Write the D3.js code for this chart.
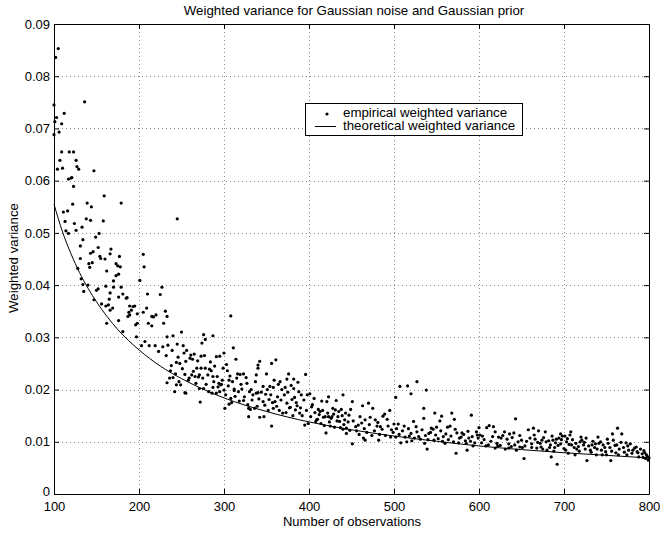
<!DOCTYPE html>
<html><head><meta charset="utf-8">
<script src="https://cdn.jsdelivr.net/npm/d3@7"></script>
<style>
html,body{margin:0;padding:0;background:#fff;}
text{font-family:"Liberation Sans",Arial,Helvetica,sans-serif;}
</style></head>
<body>
<svg id="chart" width="660" height="533"></svg>
<script>
const titleText = "Weighted variance for Gaussian noise and Gaussian prior";
const xLabelText = "Number of observations";
const yLabelText = "Weighted variance";
const legendLabels = ["empirical weighted variance", "theoretical weighted variance"];
const xTicks = [100, 200, 300, 400, 500, 600, 700, 800];
const yTicks = [0, 0.01, 0.02, 0.03, 0.04, 0.05, 0.06, 0.07, 0.08, 0.09];
const yTickLabels = ["0", "0.01", "0.02", "0.03", "0.04", "0.05", "0.06", "0.07", "0.08", "0.09"];

// theoretical curve
const curveN = [100,110,120,130,140,150,175,200,225,250,275,300,350,400,450,500,550,600,650,700,750,800];
const theoreticalVar = [0.0555,0.0502,0.0460,0.0424,0.0394,0.0368,0.0315,0.0276,0.0245,0.0221,0.0201,0.0184,0.0158,0.0138,0.0123,0.0111,0.0101,0.0092,0.0085,0.0079,0.0074,0.0069];

// empirical points
const obsN = [
105,102,100,136,112,103,101,109,106,100,109,118,123,107,126,127,129,104,110,147,117,120,121,123,159,122,139,144,179,111,116,
113,124,133,138,143,158,126,114,117,153,149,134,131,152,146,167,143,154,155,160,166,177,131,205,145,141,142,173,175,178,206,
128,162,176,173,170,132,201,134,140,152,161,170,179,227,135,150,166,181,186,210,225,147,165,176,185,156,161,164,169,166,189,
193,195,209,191,188,189,187,198,205,215,220,217,211,215,231,233,229,196,198,162,176,181,197,207,203,212,223,219,234,233,228,
240,245,245,
308,250,276,287,252,274,278,311,253,261,265,273,260,263,255,291,295,300,284,314,303,244,248,238,268,273,278,283,285,299,304,
262,266,270,259,287,319,323,315,340,342,340,338,350,356,361,376,382,387,396,366,374,240,294,297,276,282,291,295,308,306,312,
317,321,327,330,340,346,354,358,364,372,382,242,254,286,
233,236,244,249,255,271,287,272,296,300,305,306,309,301,312,323,329,331,329,336,333,338,342,346,349,347,353,356,358,360,363,
365,371,373,374,378,380,384,386,389,391,395,399,403,407,409,
507,516,527,520,538,502,401,406,415,421,423,432,440,451,463,470,475,411,413,417,419,423,427,428,431,434,438,436,442,420,444,
447,449,455,458,451,460,464,466,466,472,478,480,482,484,487,489,492,495,497,500,502,505,508,512,515,518,521,523,526,529,535,
535,536,539,541,544,546,548,550,554,556,558,560,563,566,568,571,573,574,577,580,584,586,588,591,593,597,599,410,425,440,444,
643,612,609,617,601,600,630,636,641,664,670,678,604,623,626,633,646,650,660,666,674,682,687,691,694,698,701,707,696,703,709,
715,719,721,725,729,733,736,740,741,744,748,752,755,757,758,763,762,768,770,773,776,780,783,786,788,792,794,796,797,799,653,
692,685,727,713,619,611,638,668,680,705,738,764,631,654,644,672,684,689,712,723,750,774,696,708,658,619,
603,606,608,614,616,621,625,628,635,639,642,648,651,656,662,665,669,673,676,679,683,686,690,693,697,700,704,706,710,714,717,
720,724,726,731,734,737,739,743,746,749,751,754,756,760,765,767,771,775,778,781,785,787,790,793,795,798,800,761,745,732,718,
702,688,675,662,648,635,622,
452,456,459,462,465,468,471,474,477,481,483,486,490,493,496,499,503,506,510,513,517,520,524,527,531,533,537,540,543,547,549,
552,555,557,561,564,567,570,572,576,579,582,585,587,590,592,595,598,
402,404,408,412,414,416,418,422,424,426,429,430,433,435,437,439,441,443,446,448,
302,307,310,313,316,318,320,324,326,328,332,334,337,339,341,344,348,351,352,355,357,359,362,367,368,369,375,377,379,381,383,
385,388,390,392,394,397,398,
232,237,239,243,246,247,251,254,256,258,264,267,269,271,275,277,279,281,288,289,292,293,298
];
const empiricalVar = [
.0853,.0836,.0745,.0751,.0729,.0721,.0713,.0709,.0693,.0688,.0655,.0655,.0655,.0639,.0639,.0627,.0622,.0622,.0624,.0619,.0603,.0605,.0606,.0589,.0571,.0555,.0557,.0550,.0557,.0540,.0542,
.0522,.0518,.0511,.0527,.0524,.0523,.0505,.0504,.0499,.0499,.0492,.0487,.0475,.0472,.0464,.0469,.0461,.0455,.0451,.0450,.0460,.0455,.0451,.0459,.0443,.0441,.0434,.0441,.0437,.0435,.0435,
.0432,.0427,.0421,.0418,.0408,.0412,.0409,.0401,.0400,.0393,.0398,.0396,.0396,.0396,.0388,.0390,.0385,.0383,.0376,.0383,.0382,.0372,.0373,.0377,.0375,.0364,.0360,.0362,.0356,.0352,.0360,
.0359,.0360,.0356,.0352,.0348,.0343,.0340,.0345,.0348,.0340,.0343,.0339,.0327,.0322,.0350,.0340,.0327,.0324,.0327,.0327,.0332,.0311,.0301,.0292,.0284,.0284,.0273,.0284,.0285,.0301,.0282,
.0303,.0287,.0527,
.0341,.0310,.0305,.0303,.0284,.0289,.0296,.0280,.0270,.0266,.0268,.0264,.0260,.0258,.0254,.0263,.0264,.0270,.0253,.0258,.0248,.0252,.0250,.0246,.0241,.0241,.0241,.0239,.0236,.0241,.0236,
.0228,.0225,.0224,.0222,.0225,.0229,.0230,.0222,.0247,.0254,.0241,.0228,.0230,.0250,.0257,.0230,.0220,.0214,.0229,.0215,.0220,.0223,.0212,.0210,.0202,.0196,.0193,.0196,.0183,.0218,.0201,
.0196,.0201,.0212,.0196,.0194,.0206,.0206,.0204,.0210,.0204,.0202,.0196,.0194,.0193,
.0213,.0222,.0209,.0209,.0193,.0202,.0204,.0176,.0209,.0199,.0207,.0172,.0175,.0164,.0198,.0179,.0164,.0162,.0148,.0164,.0180,.0193,.0147,.0177,.0191,.0148,.0181,.0130,.0164,.0177,.0186,
.0160,.0190,.0156,.0174,.0166,.0181,.0161,.0169,.0155,.0190,.0132,.0135,.0167,.0156,.0142,
.0206,.0207,.0215,.0192,.0199,.0185,.0192,.0183,.0178,.0177,.0186,.0179,.0190,.0177,.0169,.0174,.0164,.0162,.0158,.0147,.0148,.0148,.0148,.0164,.0161,.0148,.0162,.0139,.0142,.0117,.0126,
.0151,.0162,.0129,.0132,.0096,.0148,.0107,.0103,.0142,.0147,.0142,.0130,.0103,.0129,.0149,.0153,.0143,.0160,.0123,.0134,.0109,.0134,.0098,.0130,.0100,.0111,.0102,.0139,.0129,.0110,.0145,
.0164,.0097,.0086,.0116,.0126,.0124,.0155,.0128,.0140,.0149,.0110,.0097,.0128,.0130,.0155,.0143,.0078,.0117,.0107,.0117,.0102,.0084,.0107,.0151,.0092,.0119,.0107,.0143,.0130,.0124,.0116,
.0144,.0131,.0127,.0129,.0113,.0127,.0119,.0115,.0117,.0126,.0121,.0119,.0111,.0109,.0107,.0105,.0100,.0103,.0107,.0105,.0103,.0102,.0103,.0105,.0107,.0111,.0111,.0113,.0096,.0100,.0094,
.0086,.0100,.0103,.0086,.0092,.0094,.0089,.0109,.0097,.0084,.0089,.0097,.0064,.0115,.0103,.0126,.0094,.0115,.0089,.0098,.0084,.0078,.0088,.0081,.0071,.0077,.0083,.0068,.0075,.0065,.0068,
.0057,.0071,.0064,.0075,.0088,.0094,.0091,.0088,.0084,.0078,.0075,.0075,.0086,.0092,.0084,.0097,.0094,.0089,.0089,.0094,.0075,.0075,.0115,.0119,.0123,.0119,
.0098,.0104,.0092,.0101,.0110,.0097,.0093,.0112,.0096,.0108,.0094,.0112,.0089,.0101,.0096,.0113,.0099,.0090,.0108,.0100,.0089,.0111,.0098,.0093,.0104,.0087,.0106,.0095,.0104,.0097,.0091,
.0109,.0099,.0107,.0084,.0101,.0096,.0086,.0100,.0094,.0081,.0105,.0089,.0082,.0093,.0086,.0099,.0080,.0092,.0096,.0084,.0090,.0079,.0086,.0070,.0079,.0072,.0069,.0079,.0075,.0080,.0082,
.0084,.0082,.0086,.0089,.0090,.0088,.0092,
.0140,.0121,.0114,.0136,.0125,.0118,.0133,.0112,.0121,.0137,.0114,.0124,.0112,.0130,.0109,.0118,.0125,.0114,.0121,.0109,.0125,.0116,.0107,.0119,.0105,.0123,.0112,.0104,.0118,.0103,.0113,
.0106,.0121,.0101,.0115,.0104,.0111,.0100,.0124,.0098,.0109,.0114,.0097,.0120,.0101,.0110,.0098,.0113,
.0148,.0171,.0139,.0152,.0135,.0160,.0131,.0155,.0138,.0145,.0153,.0128,.0140,.0158,.0127,.0150,.0133,.0155,.0138,.0122,
.0190,.0226,.0215,.0187,.0230,.0178,.0210,.0186,.0223,.0171,.0200,.0190,.0215,.0168,.0182,.0195,.0170,.0200,.0160,.0190,.0175,.0218,.0168,.0180,.0200,.0155,.0195,.0165,.0208,.0150,.0185,
.0175,.0196,.0165,.0150,.0180,.0160,.0190,
.0265,.0236,.0275,.0230,.0262,.0215,.0240,.0229,.0275,.0218,.0235,.0212,.0255,.0228,.0222,.0265,.0210,.0228,.0215,.0245,.0225,.0205,.0218
];

const FONT = 13.3;
const AXFONT = 13;
const svg = d3.select("#chart");
const L = 54, R = 649, T = 24, B = 494;
const x = d3.scaleLinear().domain([100, 800]).range([L, R]);
const y = d3.scaleLinear().domain([0, 0.09]).range([B, T]);

svg.append("rect").attr("width", 660).attr("height", 533).attr("fill", "#fff");

// grid
const grid = svg.append("g").attr("stroke", "#8a8a8a").attr("stroke-width", 1).attr("stroke-dasharray", "1,3");
grid.selectAll("line.gx").data(xTicks.slice(1, -1)).join("line")
  .attr("x1", d => Math.round(x(d)) + 0.5).attr("x2", d => Math.round(x(d)) + 0.5)
  .attr("y1", T).attr("y2", B);
grid.selectAll("line.gy").data(yTicks.slice(1, -1)).join("line")
  .attr("y1", d => Math.round(y(d)) + 0.5).attr("y2", d => Math.round(y(d)) + 0.5)
  .attr("x1", L).attr("x2", R);

// axes
function styleAxis(g) {
  g.selectAll("path,line").attr("stroke", "#000");
  g.selectAll("text").attr("fill", "#000").attr("font-size", AXFONT)
    .attr("font-family", '"Liberation Sans",Arial,Helvetica,sans-serif');
}
svg.append("g").attr("transform", `translate(0,${B})`)
  .call(d3.axisBottom(x).tickValues(xTicks).tickSize(-5).tickSizeOuter(0).tickPadding(7.3).tickFormat(d3.format("d")))
  .call(styleAxis);
svg.append("g").attr("transform", `translate(0,${T})`)
  .call(d3.axisTop(x).tickValues(xTicks).tickSize(-5).tickSizeOuter(0).tickFormat(""))
  .call(styleAxis);
const yAxisG = svg.append("g").attr("transform", `translate(${L},0)`)
  .call(d3.axisLeft(y).tickValues(yTicks).tickSize(-5).tickSizeOuter(0).tickPadding(4).tickFormat((d, i) => yTickLabels[i]))
  .call(styleAxis);
// lift the "0" label slightly so it sits just above the "100" label
yAxisG.selectAll(".tick text").filter(d => d === 0).attr("dy", "0.12em");
svg.append("g").attr("transform", `translate(${R},0)`)
  .call(d3.axisRight(y).tickValues(yTicks).tickSize(-5).tickSizeOuter(0).tickFormat(""))
  .call(styleAxis);

// points
const pts = obsN.map((n, i) => ({ n, v: empiricalVar[i] }));
svg.append("g").selectAll("circle").data(pts).join("circle")
  .attr("cx", d => x(d.n)).attr("cy", d => y(d.v)).attr("r", 1.6).attr("fill", "#000");

// curve
const line = d3.line().x(d => x(d.n)).y(d => y(d.v)).curve(d3.curveMonotoneX);
svg.append("path").datum(curveN.map((n, i) => ({ n, v: theoreticalVar[i] })))
  .attr("d", line).attr("fill", "none").attr("stroke", "#000").attr("stroke-width", 1);

// title & labels
svg.append("text").attr("x", 354).attr("y", 15).attr("text-anchor", "middle").attr("font-size", FONT).text(titleText);
svg.append("text").attr("x", 352).attr("y", 525.5).attr("text-anchor", "middle").attr("font-size", AXFONT).text(xLabelText);
svg.append("text").attr("transform", "translate(18,258) rotate(-90)").attr("text-anchor", "middle").attr("font-size", FONT).text(yLabelText);

// legend
const lg = svg.append("g");
lg.append("rect").attr("x", 305.5).attr("y", 103.5).attr("width", 217).attr("height", 32)
  .attr("fill", "#fff").attr("stroke", "#000").attr("stroke-width", 1);
lg.append("circle").attr("cx", 327).attr("cy", 114).attr("r", 1.6).attr("fill", "#000");
lg.append("line").attr("x1", 315).attr("x2", 336).attr("y1", 126.5).attr("y2", 126.5).attr("stroke", "#000");
lg.selectAll("text").data(legendLabels).join("text")
  .attr("x", 343).attr("y", (d, i) => 116.5 + i * 13.5).attr("font-size", FONT).text(d => d);
</script>
</body></html>
